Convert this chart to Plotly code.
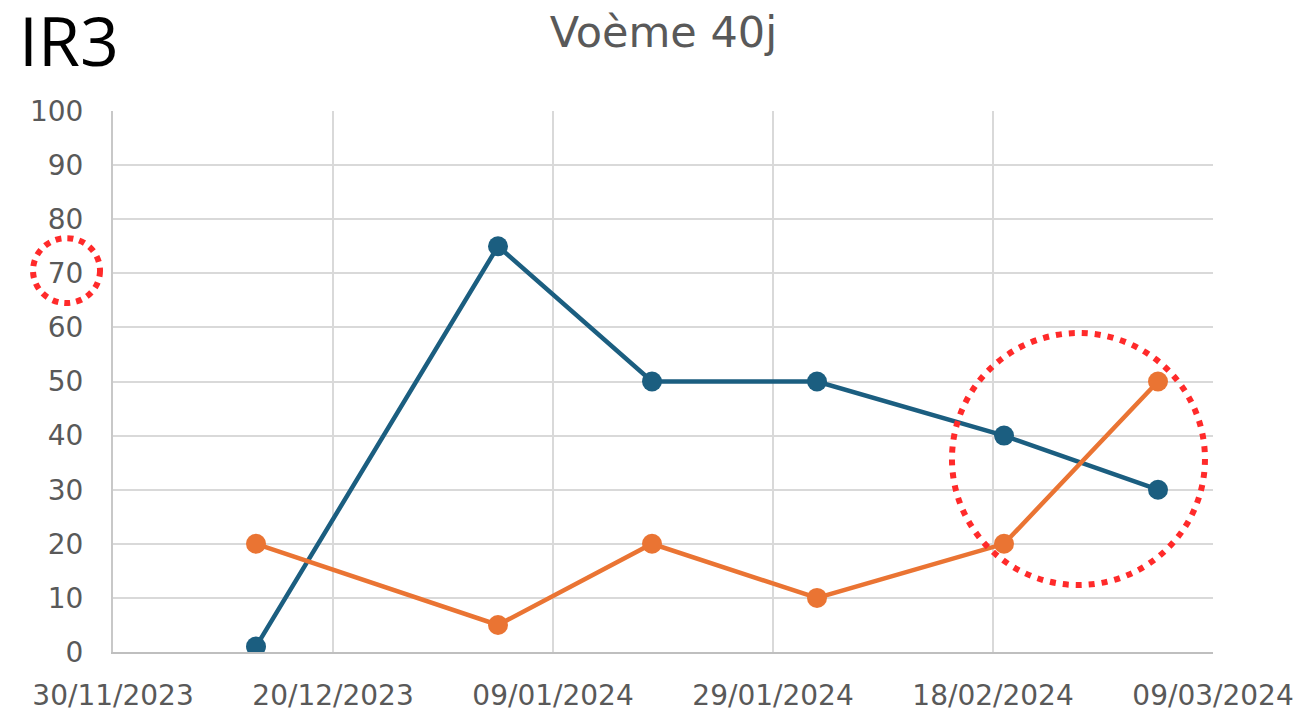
import plotly.graph_objects as go

dates = ["2023-12-13", "2024-01-04", "2024-01-18", "2024-02-02", "2024-02-19", "2024-03-04"]
serie_bleue = [1, 75, 50, 50, 40, 30]
serie_orange = [20, 5, 20, 10, 20, 50]

bleu = "#1b5e80"
orange = "#ea7433"
gris = "#595959"

fig = go.Figure()
fig.add_trace(go.Scatter(x=dates, y=serie_bleue, mode="lines+markers",
                         line=dict(color=bleu, width=4.5), marker=dict(size=20, color=bleu),
                         name="Série 1"))
fig.add_trace(go.Scatter(x=dates, y=serie_orange, mode="lines+markers",
                         line=dict(color=orange, width=4.5), marker=dict(size=20, color=orange),
                         name="Série 2"))

fig.update_layout(
    width=1303, height=710,
    margin=dict(l=105, r=98, t=103, b=66),
    paper_bgcolor="white", plot_bgcolor="white",
    showlegend=False,
    font=dict(family="DejaVu Sans, sans-serif", color=gris, size=28),
    title=dict(text="Voème 40j", x=0.503, xanchor="center", y=0.966, yanchor="middle",
               font=dict(size=43, color=gris)),
)

fig.update_xaxes(
    type="date", range=["2023-11-30", "2024-03-09"],
    tick0="2023-11-30", dtick=20 * 86400000, tickformat="%d/%m/%Y",
    showgrid=True, gridcolor="#d9d9d9", gridwidth=2,
    showline=True, linecolor="#bfbfbf", linewidth=2,
    ticks="", ticklabelstandoff=17, zeroline=False, automargin=False,
)
fig.update_yaxes(
    range=[0, 100], dtick=10,
    showgrid=True, gridcolor="#d9d9d9", gridwidth=2,
    showline=True, linecolor="#c8c8c8", linewidth=2,
    ticks="", ticklabelstandoff=22, zeroline=False, automargin=False,
)

fig.add_annotation(text="IR3", xref="paper", yref="paper", x=-0.087, y=1.133,
                   xanchor="left", yanchor="middle", showarrow=False,
                   font=dict(family="Open Sans, Noto Sans, sans-serif", size=68, color="black"))

# cercles rouges en pointillés
fig.add_shape(type="circle", xref="paper", yref="paper",
              x0=-0.0727, x1=-0.0118, y0=0.645, y1=0.765,
              line=dict(color="#ff2a2a", width=6, dash="6px,6px"))
fig.add_shape(type="circle", xref="paper", yref="paper",
              x0=0.7627, x1=0.9927, y0=0.1238, y1=0.5896,
              line=dict(color="#ff2a2a", width=6, dash="6px,7px"))

fig.write_html("out.html")
